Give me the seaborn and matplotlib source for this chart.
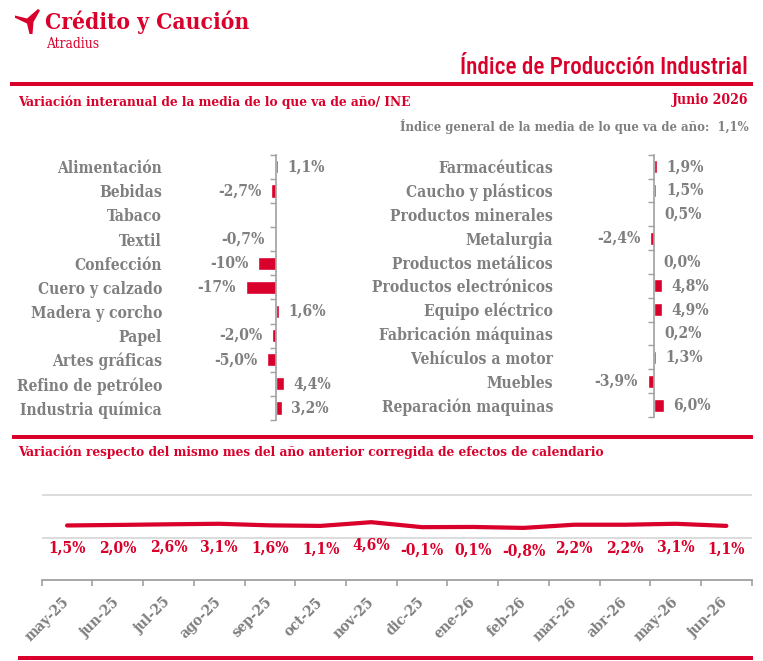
import os
import numpy as np
import pandas as pd
import matplotlib
matplotlib.use("Agg")
import matplotlib.pyplot as plt
import matplotlib.transforms as mtransforms
import seaborn as sns
from matplotlib import font_manager
from matplotlib.font_manager import FontProperties
from matplotlib.lines import Line2D
from matplotlib.patches import Polygon
from matplotlib.ticker import FixedLocator

# ---------------- data ----------------
left_categories = ["Alimentación", "Bebidas", "Tabaco", "Textil", "Confección",
                   "Cuero y calzado", "Madera y corcho", "Papel", "Artes gráficas",
                   "Refino de petróleo", "Industria química"]
left_values = [1.1, -2.7, np.nan, -0.7, -10.0, -17.0, 1.6, -2.0, -5.0, 4.4, 3.2]

right_categories = ["Farmacéuticas", "Caucho y plásticos", "Productos minerales",
                    "Metalurgia", "Productos metálicos", "Productos electrónicos",
                    "Equipo eléctrico", "Fabricación máquinas", "Vehículos a motor",
                    "Muebles", "Reparación maquinas"]
right_values = [1.9, 1.5, 0.5, -2.4, 0.0, 4.8, 4.9, 0.2, 1.3, -3.9, 6.0]

months = ["may-25", "jun-25", "jul-25", "ago-25", "sep-25", "oct-25", "nov-25",
          "dic-25", "ene-26", "feb-26", "mar-26", "abr-26", "may-26", "jun-26"]
monthly_values = [1.5, 2.0, 2.6, 3.1, 1.6, 1.1, 4.6, -0.1, 0.1, -0.8, 2.2, 2.2, 3.1, 1.1]

general_index = 1.1
period_label = "Junio 2026"

# ---------------- style ----------------
RED = "#D9002B"
GREY = "#7F7F7F"
AXGREY = "#A0A0A0"
GRIDGREY = "#D9D9D9"

sns.set_theme(style="white")
plt.rcParams["font.family"] = ["DejaVu Serif", "DejaVu Sans"]

W, H = 763, 661
fig = plt.figure(figsize=(W / 100, H / 100), dpi=100)
fig.patch.set_facecolor("white")


def fx(px):
    return px / W


def fy(py):
    return 1 - py / H


def pt(px):
    return px * 0.72


def find_file(basename):
    for f in font_manager.fontManager.ttflist:
        if os.path.basename(f.fname).lower() == basename.lower():
            return f.fname
    return None


SLAB_B = find_file("DejaVuSerifCondensed-Bold.ttf")
SLAB_R = find_file("DejaVuSerifCondensed.ttf")
names = {f.name for f in font_manager.fontManager.ttflist}


def slab(size_px, bold=True):
    f = SLAB_B if bold else SLAB_R
    if f:
        return FontProperties(fname=f, size=pt(size_px))
    return FontProperties(family="DejaVu Serif", weight="bold" if bold else "normal",
                          size=pt(size_px))


def sans(size_px):
    for fam in ["Roboto Condensed", "Liberation Sans Narrow", "Roboto"]:
        if fam in names:
            return FontProperties(family=fam, weight="medium", size=pt(size_px))
    return FontProperties(family="DejaVu Sans", weight="bold", size=pt(size_px))


renderer = fig.canvas.get_renderer()


def fit_text(x, y, s, target_w, fp, ha="left", color=RED):
    t = fig.text(fx(x), fy(y), s, fontproperties=fp, ha=ha, va="center", color=color)
    w = t.get_window_extent(renderer=renderer).width
    if w > 0:
        scale = min(max(target_w / w, 0.7), 1.3)
        t.set_fontsize(fp.get_size_in_points() * scale)
    return t


def hline(y, x0, x1, lw_px=4):
    fig.add_artist(Line2D([fx(x0), fx(x1)], [fy(y), fy(y)], transform=fig.transFigure,
                          color=RED, lw=pt(lw_px), solid_capstyle="butt"))


def fmt(v, dec=1):
    if abs(v) >= 10:
        s = f"{v:.0f}"
    else:
        s = f"{v:.{dec}f}"
    return s.replace(".", ",") + "%"


# ---------------- header ----------------
logo_pts = [(15, 15.5), (27, 18.5), (38, 9), (40, 10.5), (33.5, 22), (32.5, 34),
            (29.5, 34), (27, 23.5), (15, 17.8)]
fig.add_artist(Polygon([(fx(a), fy(b)) for a, b in logo_pts], closed=True,
                       transform=fig.transFigure, facecolor=RED, edgecolor="none"))
fit_text(45, 22, "Crédito y Caución", 204, slab(27))
fit_text(46, 44, "Atradius", 53, slab(13, bold=False))
fit_text(748, 67, "Índice de Producción Industrial", 290, sans(21), ha="right")
hline(84, 10, 753)
fit_text(18, 102, "Variación interanual de la media de lo que va de año/ INE", 393, slab(15))
fit_text(748, 100, period_label, 77, slab(15), ha="right")
fit_text(749, 127, "Índice general de la media de lo que va de año:  " + fmt(general_index),
         350, slab(15), ha="right", color=GREY)


# ---------------- bar panels ----------------
def bar_panel(cats, vals, ax_l, ax_r, zero_px, px_per_unit, top, bottom, label_right):
    ax = fig.add_axes([fx(ax_l), fy(bottom), (ax_r - ax_l) / W, (bottom - top) / H])
    df = pd.DataFrame({"cat": cats, "val": vals})
    sns.barplot(data=df, x="val", y="cat", orient="h", color=RED, saturation=1,
                width=0.55, ax=ax, errorbar=None)
    ax.set_xlim(-(zero_px - ax_l) / px_per_unit, (ax_r - zero_px) / px_per_unit)
    ax.set_ylim(len(cats) - 0.5, -0.5)
    ax.set_facecolor("none")
    for s in ["top", "right", "bottom"]:
        ax.spines[s].set_visible(False)
    ax.spines["left"].set_position(("data", 0))
    ax.spines["left"].set_color(AXGREY)
    ax.spines["left"].set_linewidth(1.2)
    ax.set_xticks([])
    ax.set_xlabel("")
    ax.set_ylabel("")
    ax.set_yticks(range(len(cats)))
    ax.set_yticklabels(cats, fontproperties=slab(15.5), color=GREY)
    ax.tick_params(axis="y", which="major", length=0, pad=pt(zero_px - label_right))
    ax.yaxis.set_minor_locator(FixedLocator(np.arange(-0.5, len(cats), 1.0)))
    ax.tick_params(axis="y", which="minor", length=pt(6), width=1, color=AXGREY,
                   direction="out", left=True)
    for i, v in enumerate(vals):
        if np.isnan(v):
            continue
        off = 7 if v >= 0 else -7
        ax.annotate(fmt(v), xy=(v, i), xytext=(off, 0), textcoords="offset points",
                    ha="left" if v >= 0 else "right", va="center",
                    fontproperties=slab(15.5), color=GREY)
    return ax


bar_panel(left_categories, left_values, 170, 380, 276, 1.78, 154.7, 420, 162)
bar_panel(right_categories, right_values, 560, 752, 654, 1.6, 154.7, 417, 553)

# ---------------- monthly line ----------------
hline(437, 12, 753)
fit_text(18, 452, "Variación respecto del mismo mes del año anterior corregida de efectos de calendario",
         585, slab(15))

ax3 = fig.add_axes([fx(41.7), fy(580), (751.7 - 41.7) / W, (580 - 454) / H])
dfm = pd.DataFrame({"month": months, "value": monthly_values})
sns.lineplot(data=dfm, x="month", y="value", sort=False, color=RED, lw=pt(4.2), ax=ax3)
ax3.set_xlim(-0.5, len(months) - 0.5)
ax3.set_ylim(-50, 69)
ax3.set_facecolor("none")
ax3.set_yticks([-10, 30])
ax3.set_yticklabels([])
ax3.yaxis.grid(True, color=GRIDGREY, lw=1.3)
ax3.xaxis.grid(False)
ax3.tick_params(axis="y", length=0)
for s in ["top", "right", "left"]:
    ax3.spines[s].set_visible(False)
ax3.spines["bottom"].set_color(AXGREY)
ax3.spines["bottom"].set_linewidth(1.3)
ax3.set_xlabel("")
ax3.set_ylabel("")
ax3.set_xticks(range(len(months)))
ax3.set_xticklabels(months, rotation=45, ha="right", fontproperties=slab(15), color=GREY)
ax3.tick_params(axis="x", which="major", length=0, pad=pt(15))
shift = mtransforms.ScaledTranslation(5 / 100, 0, fig.dpi_scale_trans)
for lbl in ax3.get_xticklabels():
    lbl.set_transform(lbl.get_transform() + shift)
ax3.xaxis.set_minor_locator(FixedLocator(np.arange(-0.5, len(months), 1.0)))
ax3.tick_params(axis="x", which="minor", length=pt(6), width=1.2, color=AXGREY,
                direction="out", bottom=True)
for i, v in enumerate(monthly_values):
    ax3.annotate(fmt(v), xy=(i, v), xytext=(0, -pt(23)), textcoords="offset points",
                 ha="center", va="center", fontproperties=slab(15.5), color=RED)

hline(657.5, 18, 753)

fig.savefig("out.png", dpi=100, facecolor="white")
